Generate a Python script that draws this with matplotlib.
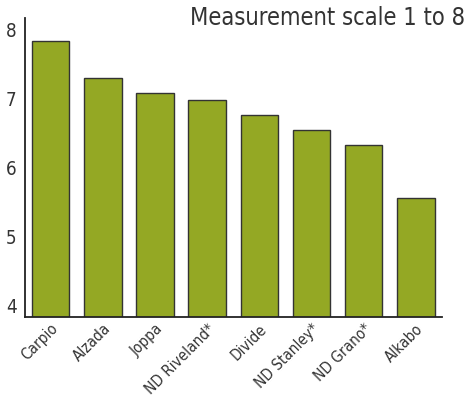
import matplotlib
matplotlib.use("Agg")
import matplotlib.pyplot as plt
from matplotlib import font_manager

# data
varieties = ["Carpio", "Alzada", "Joppa", "ND Riveland*", "Divide",
             "ND Stanley*", "ND Grano*", "Alkabo"]
scores = [7.83, 7.29, 7.07, 6.97, 6.75, 6.54, 6.32, 5.55]
yticks = [4, 5, 6, 7, 8]

# look for a narrow / condensed sans face, else plain Liberation Sans
narrow = None
for f in font_manager.fontManager.ttflist:
    n = (f.name + " " + f.fname).lower()
    if ("narrow" in n or "condensed" in n) and "bold" not in n and "oblique" not in n and "italic" not in n:
        narrow = f.fname
        break

plt.rcParams["font.family"] = ["Liberation Sans", "DejaVu Sans"]


def fp(size):
    if narrow:
        return font_manager.FontProperties(fname=narrow, size=size)
    return font_manager.FontProperties(family="Liberation Sans", size=size * 0.85)


fig = plt.figure(figsize=(4.69, 4.0), dpi=100)
ax = fig.add_axes([0.0533, 0.2075, 0.889, 0.7475])

x = range(len(varieties))
ax.bar(x, scores, width=0.72, color="#94a824", edgecolor="#333333", linewidth=1.0)

ax.set_xlim(-0.49, 7.5)
ax.set_ylim(3.83, 8.16)
ax.set_yticks(yticks)
ax.set_yticklabels([str(t) for t in yticks], fontproperties=fp(13.5), color="#333333")
ax.set_xticks(list(x))
ax.set_xticklabels(varieties, rotation=45, ha="right", rotation_mode="anchor",
                   fontproperties=fp(11), color="#333333")
ax.tick_params(length=0, pad=6)
ax.tick_params(axis="x", pad=3)

for s in ["top", "right"]:
    ax.spines[s].set_visible(False)
for s in ["left", "bottom"]:
    ax.spines[s].set_linewidth(1.3)
    ax.spines[s].set_color("#222222")

fig.text(0.992, 0.955, "Measurement scale 1 to 8", ha="right", va="center",
         fontproperties=fp(17), color="#333333")

fig.savefig("out.png", dpi=100)
